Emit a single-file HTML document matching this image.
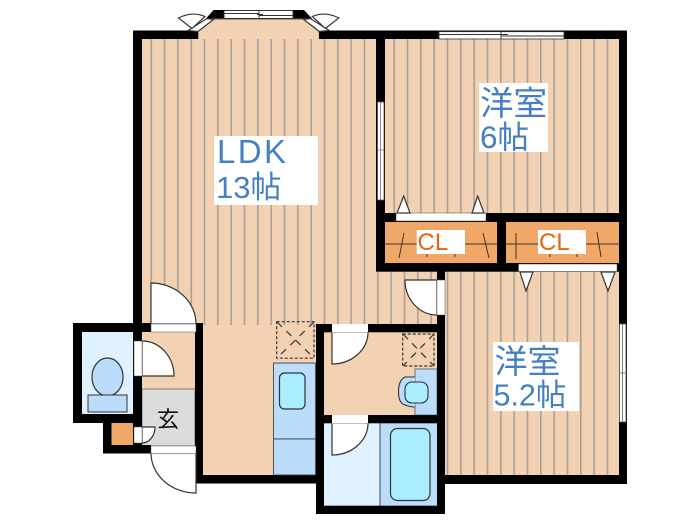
<!DOCTYPE html>
<html><head><meta charset="utf-8"><style>
html,body{margin:0;padding:0;background:#fff;width:700px;height:525px;overflow:hidden}
svg{display:block;filter:blur(.3px)}
.t{font-family:"Liberation Sans","Noto Sans CJK JP",sans-serif;fill:#4480c2}
.c{font-family:"Liberation Sans",sans-serif;fill:#e8650f;font-size:24px}
.d{fill:#fff;stroke:#333;stroke-width:1.2}
</style></head><body>
<svg width="700" height="525" viewBox="0 0 700 525" xmlns="http://www.w3.org/2000/svg">
<defs>
<pattern id="p1" patternUnits="userSpaceOnUse" x="150.4" y="0" width="13.33" height="10"><rect width="13.33" height="10" fill="#f3d2b3"/><rect width="1.6" height="10" fill="#a89f98"/></pattern>
<pattern id="p2" patternUnits="userSpaceOnUse" x="393.4" y="0" width="13.33" height="10"><rect width="13.33" height="10" fill="#f3d2b3"/><rect width="1.6" height="10" fill="#a89f98"/></pattern>
</defs>
<!-- bay floor -->
<polygon points="198,31.5 213.7,19 304,19 319.3,31.5 319.3,40 198,40" fill="#f3d2b3" stroke="#333" stroke-width=".8"/>
<!-- floors -->
<rect x="142" y="39" width="295" height="286" fill="url(#p1)"/>
<rect x="203" y="325" width="113" height="152" fill="#f3d2b3"/>
<rect x="385" y="39" width="234" height="175" fill="url(#p2)"/>
<rect x="445" y="271" width="174" height="205" fill="url(#p2)"/>
<rect x="142" y="332" width="53" height="57" fill="#f3d2b3"/>
<rect x="142" y="389" width="53" height="57" fill="#dcdcdc" stroke="#444" stroke-width=".6"/>
<rect x="82" y="332" width="52" height="82" fill="#dff0ff"/>
<rect x="111" y="423" width="23" height="22" fill="#f0a868"/>
<rect x="324" y="332" width="113" height="84" fill="#f3d2b3"/>
<rect x="324" y="423" width="56" height="83" fill="#dff0ff"/>
<rect x="380" y="423" width="57" height="83" fill="#bcdcfb"/>
<line x1="380" y1="423" x2="380" y2="506" stroke="#444" stroke-width="1"/>
<rect x="385" y="222" width="112" height="41" fill="#f0a868"/>
<rect x="506" y="222" width="113" height="41" fill="#f0a868"/>
<!-- walls -->
<g fill="#000">
<rect x="133" y="30.5" width="65" height="8.5"/>
<rect x="319" y="30.5" width="308" height="8.5"/>
<rect x="133" y="30.5" width="9" height="302"/>
<rect x="376" y="30.5" width="9" height="241"/>
<rect x="619" y="30.5" width="8" height="453"/>
<rect x="376" y="213" width="251" height="9"/>
<rect x="376" y="263" width="251" height="8.7"/>
<rect x="497" y="213" width="9" height="58"/>
<rect x="437" y="263" width="8" height="17"/>
<rect x="437" y="315" width="8" height="199"/>
<rect x="445" y="475" width="182" height="9"/>
<rect x="195" y="323" width="8" height="160"/>
<rect x="195" y="475" width="121" height="8.5"/>
<rect x="316" y="324" width="8" height="190"/>
<rect x="316" y="324" width="129" height="8.3"/>
<rect x="316" y="415" width="129" height="8.3"/>
<rect x="316" y="505.7" width="129" height="8.3"/>
<rect x="73" y="323" width="78" height="9"/>
<rect x="73" y="323" width="9" height="100"/>
<rect x="73" y="414" width="69" height="9"/>
<rect x="133" y="323" width="9" height="130"/>
<rect x="103" y="414" width="8.5" height="39"/>
<rect x="103" y="445" width="48" height="8.5"/>
<polygon points="213.5,10 224,10 224,18.5 206,18.5"/>
<polygon points="293,10 304,10 312,18.5 293,18.5"/>
</g>
<!-- top windows -->
<rect x="224" y="10.5" width="69" height="8" fill="#fff" stroke="#333" stroke-width="1"/>
<path d="M224 13.5H259M259 15.5H293M259 10V19M257 14.5H263" stroke="#333" stroke-width=".9" fill="none"/>
<rect x="439" y="31.7" width="125" height="7.3" fill="#fff" stroke="#333" stroke-width=".8"/>
<path d="M439 34.5H501M501 36H564M501 31V39M499 34.5H508" stroke="#333" stroke-width=".9" fill="none"/>
<rect x="377.5" y="102" width="6.5" height="98" fill="#fff" stroke="#555" stroke-width=".8"/>
<path d="M380.5 102V150M380.5 150V200M378 150H384" stroke="#777" stroke-width=".8" fill="none"/>
<rect x="619.5" y="324" width="6.5" height="98" fill="#fff" stroke="#555" stroke-width=".8"/>
<path d="M622.5 324V422M619 373H627" stroke="#777" stroke-width=".9" fill="none"/>
<!-- bay side -->
<g>
<polygon points="188,30.5 207,18.5 213.5,19.5 198,31.5" class="d"/>
<path d="M178.5 18 Q192 11 205 16.5 L192 28.5 Z" class="d"/>
</g>
<g transform="translate(517.3,0) scale(-1,1)">
<polygon points="188,30.5 207,18.5 213.5,19.5 198,31.5" class="d"/>
<path d="M178.5 18 Q192 11 205 16.5 L192 28.5 Z" class="d"/>
</g>
<!-- closet details -->
<rect x="396" y="213" width="90" height="8" fill="#fff" stroke="#444" stroke-width=".5"/>
<rect x="518.5" y="264" width="98.5" height="7.5" fill="#fff" stroke="#444" stroke-width=".5"/>
<polygon points="397,213 403.7,196 410,213" class="d"/>
<polygon points="472,213 477.7,196 484,213" class="d"/>
<polygon points="520,272 526,291 533,272" class="d"/>
<polygon points="601,272 608,291 615,272" class="d"/>
<path d="M385 244H497M506 244H619M404 233L399 258M483 233L489 258M516 233V259M597 232L601 257M427 254V257M455 254V257M550 254V257M577 254V257" stroke="#4a3020" stroke-width="1" fill="none"/>
<rect x="416.7" y="230" width="48.3" height="24" fill="#fff"/>
<rect x="538" y="230" width="48" height="24" fill="#fff"/>
<text x="417.5" y="250" class="c">CL</text>
<text x="539" y="250" class="c">CL</text>
<!-- doors -->
<path d="M437 280H405 A32 35 0 0 0 437 315Z" class="d"/>
<rect x="437" y="280" width="8" height="35" fill="#fff" stroke="#555" stroke-width=".5"/>
<path d="M151 324V283 A45 41 0 0 1 196 324Z" class="d"/>
<rect x="151" y="324" width="45" height="8" fill="#fff" stroke="#555" stroke-width=".5"/>
<path d="M142 376H174 A32 35 0 0 0 142 341Z" class="d"/>
<rect x="134" y="341" width="8" height="35" fill="#fff" stroke="#555" stroke-width=".5"/>
<path d="M142 427H155 A13 16 0 0 1 142 443Z" class="d"/>
<rect x="134" y="427" width="8" height="16" fill="#fff" stroke="#555" stroke-width=".5"/>
<path d="M151 453 A45 40 0 0 0 196 493V453Z" class="d"/>
<rect x="151" y="446" width="45" height="7.5" fill="#fff" stroke="#555" stroke-width=".5"/>
<path d="M332 332V364 A36 32 0 0 0 368 332Z" class="d"/>
<rect x="332" y="324" width="36" height="8.3" fill="#fff"/>
<path d="M332 423V455 A36 32 0 0 0 368 423Z" class="d"/>
<rect x="332" y="415" width="36" height="8.3" fill="#fff"/>
<!-- fixtures -->
<ellipse cx="107.5" cy="377" rx="15.5" ry="19" fill="#bcdcfb" stroke="#333" stroke-width="1.2"/>
<rect x="88" y="395" width="39" height="17" fill="#bcdcfb" stroke="#333" stroke-width="1"/>
<rect x="273.5" y="363" width="42" height="76" fill="#bcdcfb" stroke="#333" stroke-width=".8"/>
<rect x="273.5" y="439" width="42" height="36" fill="#bcdcfb" stroke="#333" stroke-width=".8"/>
<rect x="279.5" y="373" width="25.5" height="36" rx="5" fill="#a8eeff" stroke="#333" stroke-width="1.2"/>
<rect x="415" y="369" width="22" height="46" fill="#bcdcfb" stroke="#333" stroke-width=".6"/>
<path d="M415 377H405 Q398.5 380 398.5 392 Q398.5 403 405 405 Q410 407 415 407" fill="#bcdcfb" stroke="#333" stroke-width="1.1"/>
<rect x="405" y="382" width="23" height="21" rx="7" fill="#a8eeff" stroke="#333" stroke-width="1.1"/>
<rect x="390.5" y="428.5" width="39.5" height="72" rx="7" fill="#a8eeff" stroke="#333" stroke-width="1.2"/>
<!-- dashed boxes -->
<g fill="none" stroke="#333" stroke-width="1.2">
<rect x="276.7" y="321.7" width="37.3" height="36.5" stroke-dasharray="3 2"/>
<path d="M277 322L314 358M314 322L277 358" stroke-dasharray="7 6"/>
<rect x="402.7" y="334" width="31.3" height="32" stroke-dasharray="3 2"/>
<path d="M403 334L434 366M434 334L403 366" stroke-dasharray="7 6"/>
</g>
<!-- labels -->
<rect x="214" y="136" width="104" height="69" fill="#fff"/>
<text x="217" y="163" class="t" font-size="33" letter-spacing="2.4">LDK</text>
<text x="216" y="198" class="t" font-size="31">13帖</text>
<rect x="479" y="83" width="69" height="69" fill="#fff"/>
<text x="480" y="115" class="t" font-size="33.5">洋室</text>
<text x="480" y="148" class="t" font-size="31.5">6帖</text>
<rect x="493" y="342" width="86" height="69" fill="#fff"/>
<text x="494.5" y="373" class="t" font-size="33">洋室</text>
<text x="493.5" y="405.5" class="t" font-size="30.5">5.2帖</text>
<text x="157" y="427" font-family="'Liberation Sans','Noto Sans CJK JP',sans-serif" font-size="22" fill="#111">玄</text>
</svg>
</body></html>
